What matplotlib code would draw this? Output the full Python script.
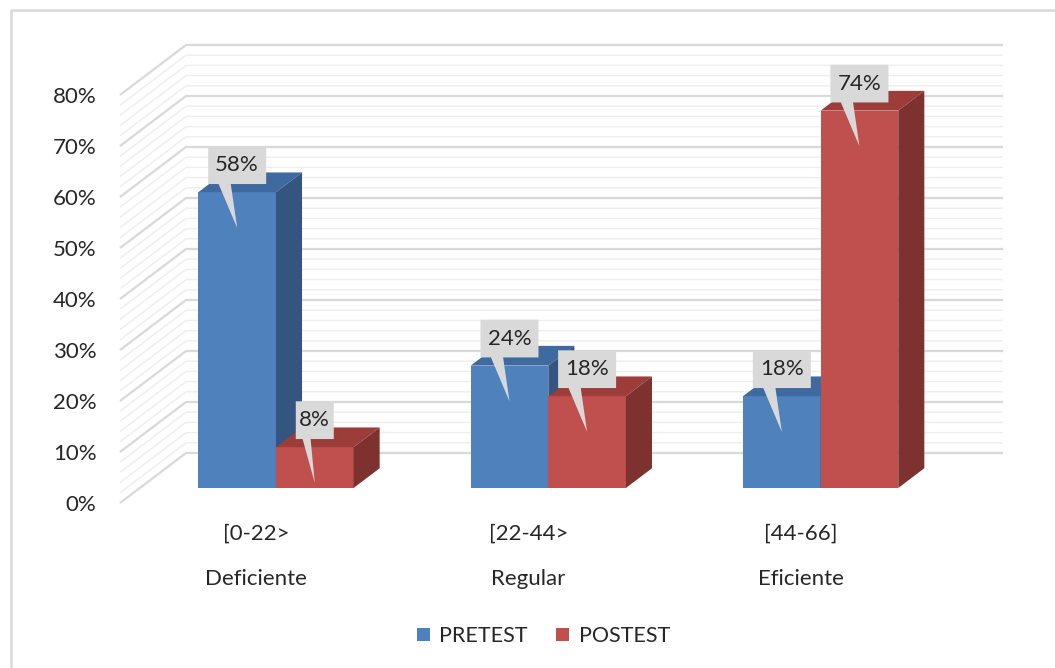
import numpy as np
import matplotlib
matplotlib.use('Agg')
import matplotlib.pyplot as plt
from matplotlib.patches import Polygon, Patch
from matplotlib.lines import Line2D

plt.rcParams['font.family'] = ['Lato', 'DejaVu Sans']

# values (%)
rangos = ['[0-22>', '[22-44>', '[44-66]']
niveles = ['Deficiente', 'Regular', 'Eficiente']
series = ['PRETEST', 'POSTEST']
pretest = [58, 24, 18]
postest = [8, 18, 74]
yticks = list(range(0, 81, 10))

front = {'PRETEST': '#4f81bd', 'POSTEST': '#c0504d'}
top = {'PRETEST': '#3e6aa0', 'POSTEST': '#9c3d3a'}
side = {'PRETEST': '#34557f', 'POSTEST': '#7d3230'}
txt = '#262626'
fs = 16

W, H = 1055, 668
fig = plt.figure(figsize=(W / 100, H / 100), dpi=100)
fig.patch.set_facecolor('white')
ax = fig.add_axes([120 / W, (H - 503) / H, 817 / W, 408 / H])
ax.set_xlim(0, 3)
ax.set_ylim(0, 80)
for s in ax.spines.values():
    s.set_visible(False)

# depth vector of the 3d box (in data units)
DX = 66 / 817 * 3
DY = 50 / 408 * 80

# side wall + back wall gridlines
for v in np.arange(0, 80.1, 2):
    major = int(round(v)) % 10 == 0
    ax.plot([0, DX, 3 + DX], [v, v + DY, v + DY], clip_on=False,
            color='#d9d9d9' if major else '#eeeeee',
            lw=1.6 if major else 1.0, zorder=1, solid_capstyle='butt')

# bars
bw = 0.285
d0, d1 = 0.30, 0.695
labels = []
for i in range(3):
    for k, (name, vals) in enumerate(zip(series, [pretest, postest])):
        v = vals[i]
        x0 = i + 0.5 - bw + k * bw
        x1 = x0 + bw
        fx0, fx1 = x0 + d0 * DX, x1 + d0 * DX
        bx0, bx1 = x0 + d1 * DX, x1 + d1 * DX
        yb0, yb1 = d0 * DY, d1 * DY
        ax.add_patch(Polygon([(fx0, yb0), (fx1, yb0), (fx1, v + yb0), (fx0, v + yb0)],
                             closed=True, fc=front[name], ec='none', zorder=3, clip_on=False))
        ax.add_patch(Polygon([(fx0, v + yb0), (fx1, v + yb0), (bx1, v + yb1), (bx0, v + yb1)],
                             closed=True, fc=top[name], ec='none', zorder=3, clip_on=False))
        ax.add_patch(Polygon([(fx1, yb0), (bx1, yb1), (bx1, v + yb1), (fx1, v + yb0)],
                             closed=True, fc=side[name], ec='none', zorder=3, clip_on=False))
        labels.append(((fx0 + fx1) / 2, v + yb0, f'{v}%'))

# callout data labels
for cx, ytop, s in labels:
    w = (20 * len(s) - 2) / 817 * 3
    h = 7.4
    yc = ytop + 5.3
    bot = yc - h / 2
    ax.add_patch(Polygon([(cx - w / 2, bot), (cx - w / 2, bot + h), (cx + w / 2, bot + h),
                          (cx + w / 2, bot), (cx - 0.11 * w, bot), (cx, ytop - 7),
                          (cx - 0.32 * w, bot)],
                         closed=True, fc='#d9d9d9', ec='none', zorder=5, clip_on=False))
    ax.text(cx, yc, s, ha='center', va='center', fontsize=fs, color=txt, zorder=6)

ax.set_yticks(yticks)
ax.set_yticklabels([f'{v}%' for v in yticks], fontsize=fs, color=txt)
ax.set_xticks([0.5, 1.5, 2.5])
ax.set_xticklabels([f'{r}\n{n}' for r, n in zip(rangos, niveles)], fontsize=fs, color=txt)
for t in ax.get_xticklabels():
    t.set_linespacing(2.6)
ax.tick_params(axis='y', length=0, pad=17)
ax.tick_params(axis='x', length=0, pad=15)
ax.patch.set_alpha(0)

fig.legend(handles=[Patch(fc=front[n], ec='none') for n in series], labels=series,
           loc='center', bbox_to_anchor=(0.515, 0.048), ncol=2, frameon=False,
           fontsize=fs - 0.5, handlelength=0.6, handleheight=0.6, handletextpad=0.45,
           columnspacing=1.3, labelcolor=txt)

# chart area border
fig.add_artist(Line2D([11 / W, 11 / W, 1], [0, 1 - 10 / H, 1 - 10 / H],
                      transform=fig.transFigure, color='#d9d9d9', lw=1.8))

fig.savefig('out.png', dpi=100)
